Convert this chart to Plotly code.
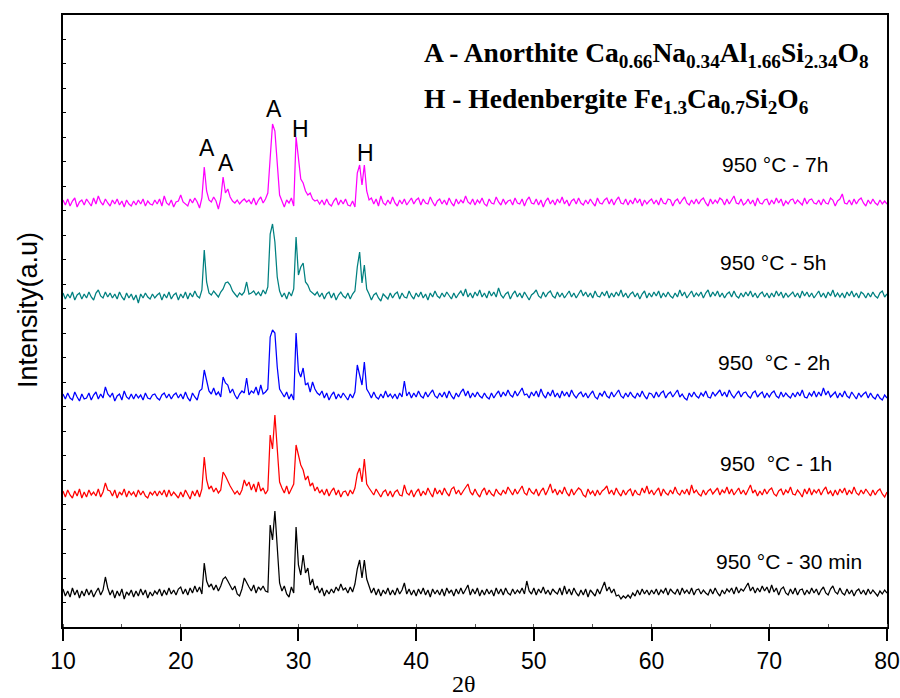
import numpy as np
import plotly.graph_objects as go

# 2-theta grid (degrees), 0.2 deg step
two_theta = np.linspace(10, 80, 351)

# Intensity above each pattern's own baseline (a.u.)
h_30min = [
    4, -3, 2, -4, 5, -2, 3, -5, 2, -3,
    4, -2, 3, -4, 1, 5, -2, 3, 16, 5,
    -2, 3, -5, 2, -3, 4, -6, 1, -2, 3,
    -4, 2, -3, 4, -2, 3, -5, 1, -3, 2,
    -1, 4, -3, 3, -2, 5, -1, 3, -2, 4,
    6, -1, 4, -2, 5, 0, 7, 1, 6, -1,
    30, 12, 6, 9, 3, 8, 2, 7, 14, 16,
    12, 8, 3, 7, -1, -3, 4, 15, 10, 6,
    2, 8, 0, 6, 3, 7, 2, 1, 68, 53,
    82, 40, 10, 2, 7, -1, -4, 6, 0, 66,
    28, 18, 38, 20, 25, 8, 14, 3, 7, 0,
    5, -3, 3, -1, 4, 0, 6, 2, 9, 3,
    5, 0, 6, 1, 9, 24, 33, 15, 33, 14,
    7, 0, 5, -2, 4, -3, 3, -1, 5, -2,
    3, -2, 5, -1, 3, 10, -1, 4, -2, 3,
    -3, 4, -1, 5, -2, 3, -4, 4, -1, 3,
    -2, 4, -3, 5, 0, 3, -3, 4, -1, 5,
    -1, 3, 8, -2, 4, -1, 5, -3, 3, -2,
    4, -1, 3, -3, 5, -1, 4, -2, 5, 0,
    -2, 4, -1, 3, 0, 5, -1, 12, 2, -1,
    5, -2, 4, 0, 6, -1, 3, -2, 4, 1,
    -1, 5, -2, 7, -1, 4, -2, 5, 0, -3,
    3, -2, 4, -4, 3, 0, -3, 4, -1, 5,
    11, 2, 6, 0, 4, -3, -2, -6, -3, -5,
    -2, -5, 0, -3, 3, -2, 4, -1, 3, -2,
    3, -1, 4, -2, 3, 0, 5, -2, 4, 1,
    -1, 4, -2, 5, 0, 3, -1, 5, -2, 3,
    4, -1, 3, 0, -2, 4, -1, 5, 0, -3,
    3, -1, 4, 1, 5, -1, 6, 0, 4, 2,
    6, 10, 2, 6, 0, 5, 1, 7, 2, 6,
    0, 8, 1, 5, -2, 4, 6, 0, -2, 4,
    -1, 5, -2, 3, 4, -2, 3, -1, 5, 0,
    4, -2, 3, 6, 0, -2, 4, 7, 1, -1,
    5, 0, -2, 4, -1, 3, -3, 2, 4, -1,
    3, -2, 4, -1, 3, 0, -3, 2, -1, 3,
    0,
]

h_1h = [
    3, -3, 4, -1, -4, 3, -2, 5, -4, 2,
    -3, 4, -1, 2, -2, 5, -3, 2, 11, 4,
    3, -2, 4, -4, 2, -1, 5, -3, 3, -1,
    2, -3, 4, -1, 3, -2, -4, 2, -1, 3,
    -2, 3, -1, 4, -3, 4, -2, 2, -1, -4,
    2, -3, 4, -1, -5, 3, -2, 4, -3, 5,
    37, 14, 5, 8, 2, 6, 1, 4, 22, 18,
    12, 8, 4, 0, 3, -1, 4, 14, 8, 12,
    4, 10, 2, 12, 3, 6, 0, 4, 59, 45,
    79, 44, 12, 6, 1, 8, 0, 5, 10, 49,
    40, 29, 24, 14, 18, 8, 11, 3, 7, 1,
    4, -1, 5, -2, 3, 6, -1, 4, -3, 2,
    3, -2, 4, 0, 6, 20, 26, 12, 35, 10,
    6, 2, -1, 5, 1, -3, 2, 4, -2, 3,
    -3, 2, 4, -1, -2, 9, 1, -1, 4, -3,
    2, 5, -2, 3, -1, 6, 1, -3, 6, 0,
    4, -1, 6, 1, -2, 5, 7, 0, 4, -1,
    3, 6, 10, 2, -1, 5, 0, -3, 3, 6,
    -1, 4, 0, -2, 5, 1, -1, 4, 0, 7,
    3, -1, 5, 0, 4, 8, 1, -1, 6, 2,
    0, 5, -2, 3, 6, -1, 4, 10, 1, 5,
    -1, 4, 0, 7, 1, -2, 5, -1, 3, 6,
    4, -1, -3, 5, 0, 3, -2, 4, -1, 3,
    5, 8, 0, 4, -1, 6, 1, -2, 4, -1,
    3, 5, -2, 4, 0, -1, 6, 1, 8, 0,
    4, -1, 3, 6, -2, 5, 1, -1, 4, 0,
    7, 1, -1, 4, 0, 5, -1, 9, 1, 4,
    0, -2, 4, -1, 3, 5, 0, 3, 6, -1,
    4, 1, 7, 0, 5, -1, 3, 6, 0, 4,
    -1, 5, 9, 1, 4, -2, 3, -1, 5, 0,
    4, 6, 0, -2, 3, 5, -1, 4, 1, 7,
    0, -1, 4, 1, -3, 5, 0, 6, -1, 4,
    1, 5, -1, 4, 7, 0, 3, -2, 4, -1,
    5, 1, 6, -1, 4, 0, 7, 1, -1, 4,
    0, 5, 1, -2, 4, -1, 3, 5, 0, -3,
    2,
]

h_2h = [
    3, -2, 4, -1, -3, 5, 0, -4, 3, -2,
    -1, 4, -3, 2, 5, -2, 3, -1, 10, 3,
    0, 4, -4, 1, 3, -3, 6, 0, -2, 3,
    -2, 3, -1, 2, -3, 4, -1, -2, 2, 3,
    -1, -3, 2, 4, -1, 3, -2, 2, 4, -1,
    3, -2, 5, -1, -4, 4, 0, -3, 6, 8,
    27, 18, 6, 3, 9, 2, 5, 0, 20, 14,
    12, 4, 8, 2, -2, 3, 6, 4, 19, 2,
    6, 4, 10, 2, 12, 3, 5, 8, 60, 67,
    64, 30, 8, 4, 0, 5, -2, 3, -3, 64,
    26, 20, 29, 12, 14, 5, 15, 8, 4, 2,
    6, -1, 4, -3, 2, 5, -2, 3, -1, 4,
    0, -3, 3, -1, 5, 32, 22, 12, 35, 8,
    4, -1, 5, 0, -2, 3, -1, 6, 0, 3,
    -1, 3, -2, 4, 0, 16, 1, 5, -1, 4,
    0, 6, 1, -1, 5, 0, 4, 7, 1, -1,
    4, 0, 5, -1, 6, 1, -2, 4, 0, 5,
    8, 1, 6, -1, 4, 0, 5, 1, -1, 4,
    0, -2, 4, -1, 3, 6, 0, 5, 1, 7,
    2, 0, 6, 1, 5, 9, 2, 3, -1, 5,
    1, 6, 0, 8, 2, -1, 5, 1, 7, 0,
    4, -1, 6, 1, 5, 0, 7, 2, -1, 3,
    5, 0, 4, -1, 3, 6, 0, -2, 4, 1,
    6, 1, -1, 5, 0, 4, 7, 1, -1, 4,
    0, 5, 1, -1, 4, 0, 6, 1, -2, 4,
    3, -1, 5, 0, 4, 6, -1, 3, 5, 0,
    4, 7, 0, 3, -1, -3, 4, 0, 5, 1,
    -1, 4, 1, 6, 0, -1, 5, 1, 4, 7,
    1, 5, 0, 7, 2, -1, 3, 6, 0, 4,
    5, 1, -1, 4, 6, 0, 3, 5, -1, 4,
    0, 4, 6, 1, -1, 5, 0, 4, 1, -1,
    4, 0, 5, 1, 7, 0, -1, 4, 1, 6,
    0, 5, 1, 9, 2, 6, 0, 3, 5, -1,
    4, 0, 6, 1, -1, 5, 1, -2, 4, 0,
    3, 5, -1, 4, 0, -2, 3, -1, -3, 2,
    -1,
]

h_5h = [
    4, -2, 3, -1, 5, -3, 2, 4, -2, 3,
    -1, 5, 0, -3, 4, 7, 1, -1, 5, 0,
    4, -1, 3, -2, 5, 0, -3, 4, -1, 3,
    -3, 2, -6, 3, -1, 4, 0, -2, 3, -1,
    2, 4, -3, 3, -1, 5, -2, 2, 4, -3,
    3, -1, 5, -2, 4, 0, 6, 1, -1, 7,
    47, 15, 4, 2, 6, 3, 0, 5, 8, 14,
    15, 12, 6, 3, 0, 4, 2, 5, 15, 3,
    4, 6, 2, 5, 1, 7, 3, 10, 63, 73,
    55, 20, 6, 0, 4, -2, 5, 1, 8, 60,
    22, 30, 34, 15, 12, 6, 4, 2, 5, 0,
    4, -2, 3, 5, -1, 4, -3, 2, 5, 1,
    -1, 4, -2, 3, 6, 30, 45, 14, 32, 8,
    3, -3, 2, 4, -1, -4, 3, 0, -2, 4,
    -1, 3, 5, -2, 4, 0, -1, 6, 1, -2,
    4, 0, 5, -1, 3, -3, 4, 0, 6, 1,
    -1, 4, 0, 5, 1, -2, 4, -1, 3, 6,
    1, 8, 0, 4, -1, 5, 1, 7, 0, 4,
    -1, 6, 1, 5, 0, 9, 2, -1, 3, 5,
    -2, 3, 6, 0, 4, -1, 5, 1, -3, 2,
    4, 7, 1, -1, 5, 0, 4, 6, 1, -1,
    5, 0, 4, -1, 3, 6, 0, 4, -1, 3,
    7, 1, 5, 0, 4, -1, 6, 1, 0, 5,
    1, 6, -1, 4, 0, 5, 1, 7, 0, 4,
    -1, 3, 5, 0, 4, -2, 3, 6, -1, 4,
    0, 5, 1, 6, -1, 4, 0, 5, 1, -1,
    4, 0, 7, 1, 5, -1, 3, 6, 0, 4,
    1, 5, -1, 4, 7, 0, 5, 1, 6, 0,
    4, -1, 3, 5, 0, 6, 1, -1, 4, 0,
    5, 1, 6, 0, 4, -1, 3, 5, 0, 4,
    -1, 4, 0, 6, 1, 5, -1, 4, 0, 3,
    5, 0, 4, -1, 6, 1, 5, 0, 4, -1,
    3, 6, 0, 4, -1, 5, 1, 7, 0, 4,
    0, 4, -1, 5, 1, 6, 0, 4, -1, 5,
    3, -1, 4, 0, 5, 1, -1, 4, 6, 0,
    3,
]

h_7h = [
    3, -2, 4, -3, 2, 5, -4, 1, 3, -2,
    4, 0, -3, 5, -1, 7, 1, -2, 4, 0,
    -3, 3, -1, 4, -2, 2, -4, 3, -1, -3,
    2, -2, 3, -1, 4, -3, 2, -1, -2, 3,
    -1, 4, -3, 7, 0, -2, 3, -4, 1, 2,
    8, 1, -1, -3, 4, 0, 5, 1, -5, 5,
    36, 12, 3, 1, 6, 2, -6, 4, 26, 10,
    14, 6, 2, 0, 3, -1, 2, 4, 1, 3,
    -1, 5, -2, 3, 6, 0, 4, 10, 45, 79,
    72, 40, 8, 2, -4, 3, 0, 5, -3, 66,
    42, 24, 20, 12, 8, 10, 4, 2, 3, -1,
    3, -2, 4, -1, -3, 2, 5, -2, 3, -1,
    4, -2, -3, 2, -4, 30, 38, 18, 38, 12,
    3, 5, -1, 4, -3, 7, 0, -2, 3, -1,
    6, 0, -3, 3, -1, 4, -2, 2, 5, -1,
    3, 5, -2, 4, 0, -1, 6, 1, -3, 2,
    4, -1, 3, -2, 5, 0, -3, 4, -1, 3,
    0, 7, 1, -1, 4, -2, 3, 0, 5, -1,
    -3, 4, 0, -1, 6, 1, -2, 4, -1, 2,
    3, -2, 5, 0, -1, 4, -3, 3, 6, 0,
    -1, 4, -2, 3, -4, 2, 5, -1, 3, -2,
    4, 0, 6, -1, 3, -3, 2, 4, -1, 5,
    0, -2, 3, -1, 4, 0, -3, 5, 0, -1,
    3, 5, -1, 4, -2, 3, 6, 0, -1, 4,
    -2, 3, -1, 5, 0, 4, -3, 3, -1, 2,
    4, -1, 3, -2, 5, 0, -1, 4, 3, -3,
    2, 4, -1, 3, 6, 0, -2, 3, -1, 4,
    -1, 3, 5, 0, -3, 4, -1, 3, 0, 5,
    3, -2, 4, -1, 3, 7, 0, -1, 4, -2,
    0, 4, -1, 3, -3, 5, 0, -1, 3, 4,
    -2, 3, -1, 5, 0, 4, -3, 2, -1, 3,
    4, -1, 3, 0, -2, 5, -1, 3, 4, 0,
    -1, 3, -2, 4, 0, -1, 5, 3, -3, 2,
    4, 9, 0, -1, 3, -2, 4, -1, 3, 5,
    0, -3, 3, -1, 4, 0, -2, 3, -1, 2,
    -1,
]

series_names = ["950 °C - 30 min", "950  °C - 1h", "950  °C - 2h", "950 °C - 5h", "950 °C - 7h"]
series_heights = [h_30min, h_1h, h_2h, h_5h, h_7h]
series_offsets = [34, 133, 230, 330, 424]
series_colors = ["#000000", "#FF0000", "#0000FF", "#008080", "#FF00FF"]

# sample label positions (2theta, intensity)
label_x = [71.67, 70.6, 70.43, 70.3, 70.47]
label_y = [66, 164, 265, 365, 463]

# peak markers on the top pattern
peak_text = ["A", "A", "A", "H", "H"]
peak_x = [22.2, 23.86, 27.95, 30.2, 35.73]
peak_y = [479, 464, 518, 498, 474]

x_ticks = [10, 20, 30, 40, 50, 60, 70, 80]

fig = go.Figure()
for name, h, off, col in zip(series_names, series_heights, series_offsets, series_colors):
    y = np.array(h[:len(two_theta)], dtype=float) + off
    fig.add_trace(go.Scatter(x=two_theta[:len(y)], y=y, mode="lines", name=name,
                             line=dict(color=col, width=1.25), showlegend=False))

sans = "Liberation Sans, Arial, sans-serif"
serif = "Liberation Serif, Times New Roman, serif"

annotations = []
for t, xx, yy in zip(series_names, label_x, label_y):
    annotations.append(dict(x=xx, y=yy, xref="x", yref="y", text=t, showarrow=False,
                            font=dict(family=sans, size=21, color="black"),
                            xanchor="center", yanchor="middle"))
for t, xx, yy in zip(peak_text, peak_x, peak_y):
    annotations.append(dict(x=xx, y=yy, xref="x", yref="y", text=t, showarrow=False,
                            font=dict(family=sans, size=23, color="black"),
                            xanchor="center", yanchor="middle"))

annotations.append(dict(
    x=(422 - 63) / 824, y=(627 - 55) / 612, xref="paper", yref="paper", xanchor="left", yanchor="middle",
    showarrow=False, font=dict(family=serif, size=27.5, color="black"),
    text="<b>A - Anorthite Ca<sub>0.66</sub>Na<sub>0.34</sub>Al<sub>1.66</sub>Si<sub>2.34</sub>O<sub>8</sub></b>"))
annotations.append(dict(
    x=(422 - 63) / 824, y=(627 - 101) / 612, xref="paper", yref="paper", xanchor="left", yanchor="middle",
    showarrow=False, font=dict(family=serif, size=27.5, color="black"),
    text="<b>H - Hedenbergite Fe<sub>1.3</sub>Ca<sub>0.7</sub>Si<sub>2</sub>O<sub>6</sub></b>"))

# axis titles
annotations.append(dict(x=(28 - 63) / 824, y=(627 - 310) / 612, xref="paper", yref="paper",
                        text="Intensity(a.u)", textangle=-90, showarrow=False,
                        font=dict(family=sans, size=27, color="black"),
                        xanchor="center", yanchor="middle"))
annotations.append(dict(x=(464 - 63) / 824, y=(627 - 684) / 612, xref="paper", yref="paper",
                        text="2θ", showarrow=False,
                        font=dict(family=serif, size=24, color="black"),
                        xanchor="center", yanchor="middle"))

fig.update_layout(
    width=900, height=698,
    margin=dict(l=63, r=13, t=15, b=71, autoexpand=False),
    paper_bgcolor="white", plot_bgcolor="white",
    annotations=annotations,
    showlegend=False,
)
fig.update_xaxes(
    range=[10, 80], tickvals=x_ticks, ticktext=[str(v) for v in x_ticks],
    ticks="outside", ticklen=12, tickwidth=2, tickcolor="black",
    showline=True, linewidth=2, linecolor="black", mirror=True,
    showgrid=False, zeroline=False, automargin=False,
    tickfont=dict(family=sans, size=23, color="black"),
    minor=dict(ticks="inside", dtick=5, tick0=0, ticklen=3, tickwidth=1, tickcolor="#555"),
)
fig.update_yaxes(
    range=[0, 612], tick0=0, dtick=612 / 25,
    ticks="inside", ticklen=3, tickwidth=1, tickcolor="black",
    showticklabels=False, automargin=False,
    showline=True, linewidth=2, linecolor="black", mirror=True,
    showgrid=False, zeroline=False,
)

fig.write_html("out.html", config={"displayModeBar": False},
               post_script="document.body.style.margin='0px';document.body.style.overflow='hidden';")
